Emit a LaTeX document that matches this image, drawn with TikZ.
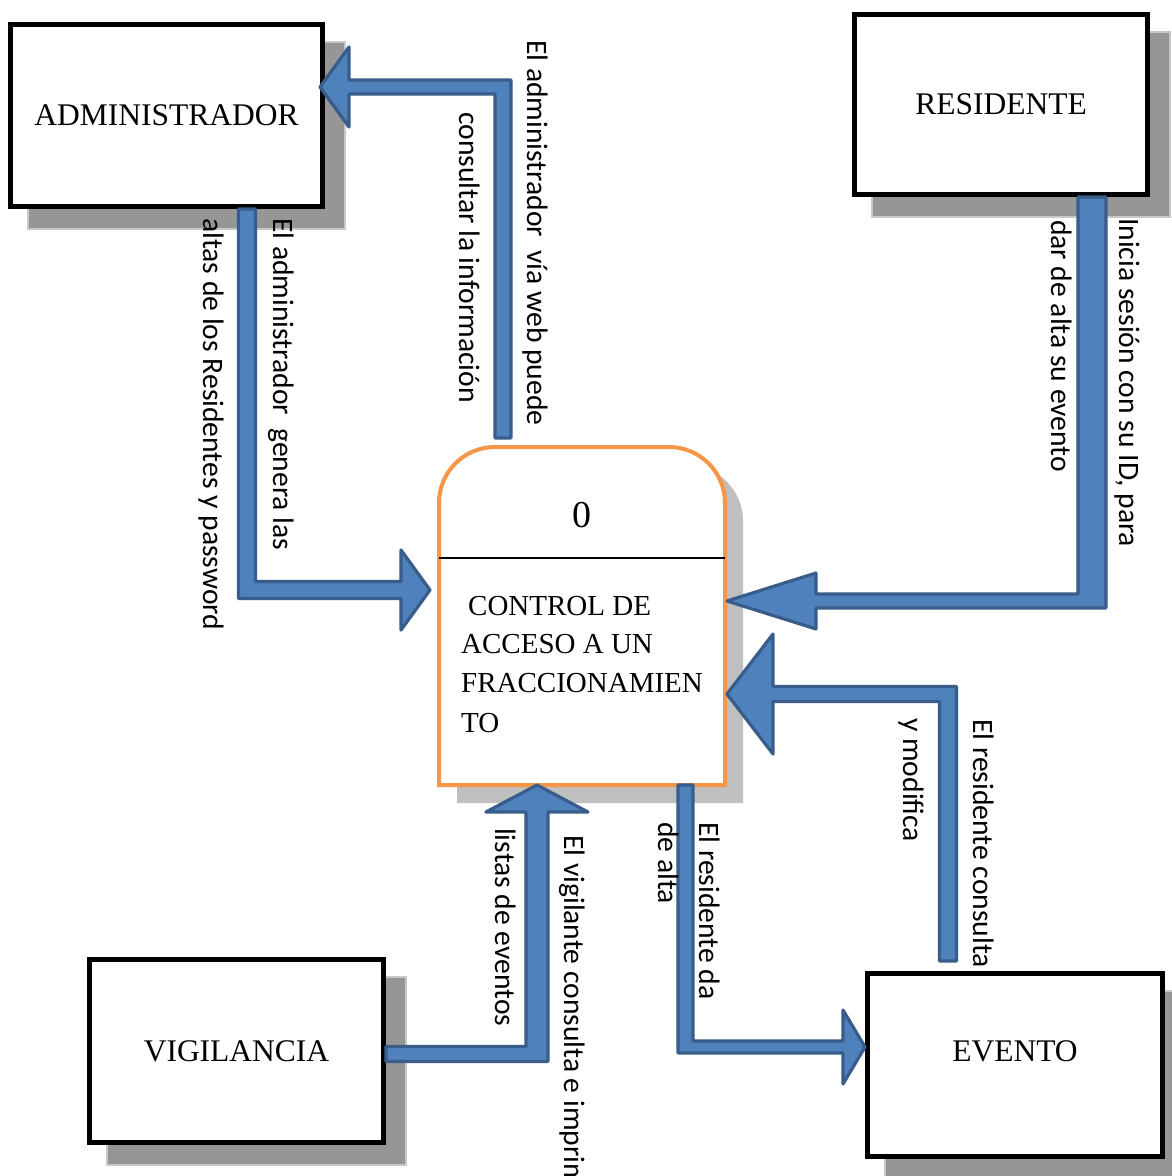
\documentclass[tikz,border=0pt]{standalone}
\usepackage{fontspec}
\setmainfont{Liberation Serif}
\newfontfamily\lblfamily{Carlito}
\usetikzlibrary{calc,backgrounds}

\definecolor{flowblue}{HTML}{4F81BD}
\definecolor{flowedge}{HTML}{385D8A}
\definecolor{procorange}{HTML}{F79646}
\definecolor{boxshade}{HTML}{969696}
\definecolor{boxshadeedge}{HTML}{C8C8C8}
\definecolor{procshade}{HTML}{BFBFBF}

\newcommand\lblfont{\lblfamily\fontsize{29.6}{35}\selectfont}
\newcommand\entfont{\fontsize{31.5}{38}\selectfont}
\newcommand\procfont{\fontsize{29}{39}\selectfont}
\newcommand\pnumfont{\fontsize{38}{44}\selectfont}

% Bent block arrow: first leg vertical, then horizontal to the tip.
% #1 start, #2 tip, #3 first-leg width, #4 second-leg width,
% #5 head length, #6 head half-width
\newcommand\flowVH[6]{%
  \path[flow] let \p1=#1, \p2=#2,
      \n1={sign(\x2-\x1)}, \n2={sign(\y2-\y1)} in
    ({\x1-(\n1)*(#3)/2},{\y1}) -- ({\x1+(\n1)*(#3)/2},{\y1})
    -- ({\x1+(\n1)*(#3)/2},{\y2-(\n2)*(#4)/2})
    -- ({\x2-(\n1)*(#5)},{\y2-(\n2)*(#4)/2})
    -- ({\x2-(\n1)*(#5)},{\y2-(\n2)*(#6)})
    -- (\x2,\y2)
    -- ({\x2-(\n1)*(#5)},{\y2+(\n2)*(#6)})
    -- ({\x2-(\n1)*(#5)},{\y2+(\n2)*(#4)/2})
    -- ({\x1-(\n1)*(#3)/2},{\y2+(\n2)*(#4)/2}) -- cycle;}

% Bent block arrow: first leg horizontal, then vertical to the tip.
\newcommand\flowHV[6]{%
  \path[flow] let \p1=#1, \p2=#2,
      \n1={sign(\x2-\x1)}, \n2={sign(\y2-\y1)} in
    ({\x1},{\y1-(\n2)*(#3)/2}) -- ({\x1},{\y1+(\n2)*(#3)/2})
    -- ({\x2-(\n1)*(#4)/2},{\y1+(\n2)*(#3)/2})
    -- ({\x2-(\n1)*(#4)/2},{\y2-(\n2)*(#5)})
    -- ({\x2-(\n1)*(#6)},{\y2-(\n2)*(#5)})
    -- (\x2,\y2)
    -- ({\x2+(\n1)*(#6)},{\y2-(\n2)*(#5)})
    -- ({\x2+(\n1)*(#4)/2},{\y2-(\n2)*(#5)})
    -- ({\x2+(\n1)*(#4)/2},{\y1-(\n2)*(#3)/2}) -- cycle;}

\begin{document}
\begin{tikzpicture}[x=1pt, y=-1pt,
  entity/.style={draw=black, line width=5pt, fill=white, inner sep=0pt,
    outer sep=2.5pt, font=\entfont},
  flow/.style={fill=flowblue, draw=flowedge, line width=3.2pt, line join=round},
  lbl/.style={rotate=-90, anchor=base west, inner sep=0pt, font=\lblfont},
  proctext/.style={anchor=base west, inner sep=0pt, font=\procfont}]

\useasboundingbox (0,0) rectangle (1172,1176);

% external entities
\node[entity, minimum width=312pt, minimum height=182pt, text depth=-4pt] (adm) at (166.5,115.5) {ADMINISTRADOR};
\node[entity, minimum width=293pt, minimum height=180pt, text depth=-2pt] (res) at (1001,104.5) {RESIDENTE};
\node[entity, minimum width=294pt, minimum height=183pt] (vig) at (236.5,1051) {VIGILANCIA};
\node[entity, minimum width=295pt, minimum height=183pt, text depth=28pt] (evt) at (1015,1065) {EVENTO};

% process frame
\node[minimum width=286pt, minimum height=338pt, inner sep=0pt, outer sep=0pt] (proc) at (582,616) {};

\begin{pgfonlayer}{background}
  \fill[white] (0,0) rectangle (1172,1176);
  \foreach \b in {adm,res,vig,evt}
    \path[fill=boxshade, draw=boxshadeedge, line width=1.2pt]
      ([shift={(20pt,-20pt)}]\b.south west) rectangle ([shift={(20pt,-20pt)}]\b.north east);
  \path[fill=procshade]
    ([shift={(18pt,-18pt)}]proc.south west)
    -- ([shift={(18pt,-74pt)}]proc.north west) arc[start angle=180, end angle=90, radius=56pt]
    -- ([shift={(-38pt,-18pt)}]proc.north east) arc[start angle=90, end angle=0, radius=56pt]
    -- ([shift={(18pt,-18pt)}]proc.south east) -- cycle;
\end{pgfonlayer}

\path[fill=white, draw=procorange, line width=4pt]
  (proc.south west)
  -- ([yshift=-56pt]proc.north west) arc[start angle=180, end angle=90, radius=56pt]
  -- ([xshift=-56pt]proc.north east) arc[start angle=90, end angle=0, radius=56pt]
  -- (proc.south east) -- cycle;
\draw[line width=1.5pt] ([yshift=-111pt]proc.north west) -- ([yshift=-111pt]proc.north east);
\node[font=\pnumfont, inner sep=0pt] (pnum) at ([yshift=-68pt]proc.north) {0};
\node[proctext] (pt1) at ([xshift=22pt,yshift=-168pt]proc.north west) {\hspace*{7pt}CONTROL DE};
\node[proctext] (pt2) at ([xshift=22pt,yshift=-206pt]proc.north west) {ACCESO A UN};
\node[proctext] (pt3) at ([xshift=22pt,yshift=-245pt]proc.north west) {FRACCIONAMIEN};
\node[proctext] (pt4) at ([xshift=22pt,yshift=-285pt]proc.north west) {TO};

% data flows
\flowVH{([xshift=80.5pt]adm.south)}{([xshift=-9pt,yshift=26pt]proc.west)}{17}{17}{29}{40}
\flowVH{([xshift=-79pt,yshift=9pt]proc.north)}{([xshift=-5pt,yshift=28.5pt]adm.east)}{16}{14}{29}{40}
\flowVH{([xshift=91pt]res.south)}{([xshift=2pt,yshift=15pt]proc.east)}{28}{14}{89}{28}
\flowHV{([yshift=-3pt]vig.east)}{([xshift=-45pt]proc.south)}{15}{22}{27}{51}
\flowVH{([xshift=103.5pt]proc.south)}{([yshift=18pt]evt.west)}{15}{12}{22}{37}
\flowVH{([xshift=-67pt,yshift=10pt]evt.north)}{([xshift=2pt,yshift=-78pt]proc.east)}{17}{15}{46}{60}

% flow labels
\node[lbl] (l1) at (527,40) {El administrador~ vía web puede};
\node[lbl] (l2) at (459,112) {consultar la información};
\node[lbl] (l3) at (273,218) {El administrador~ genera las};
\node[lbl] (l4) at (203,218) {altas de los Residentes y password};
\node[lbl] (l5) at (1119,218) {Inicia sesión con su ID, para};
\node[lbl] (l6) at (1051,220) {dar de alta su evento};
\node[lbl] (l7) at (973,719) {El residente consulta};
\node[lbl] (l8) at (903,718) {y modifica};
\node[lbl] (l9) at (699,822) {El residente da};
\node[lbl] (l10) at (658,822) {de alta};
\node[lbl] (l11) at (564,835) {El vigilante consulta e imprim};
\node[lbl] (l12) at (495,828) {listas de eventos};
\end{tikzpicture}
\end{document}
